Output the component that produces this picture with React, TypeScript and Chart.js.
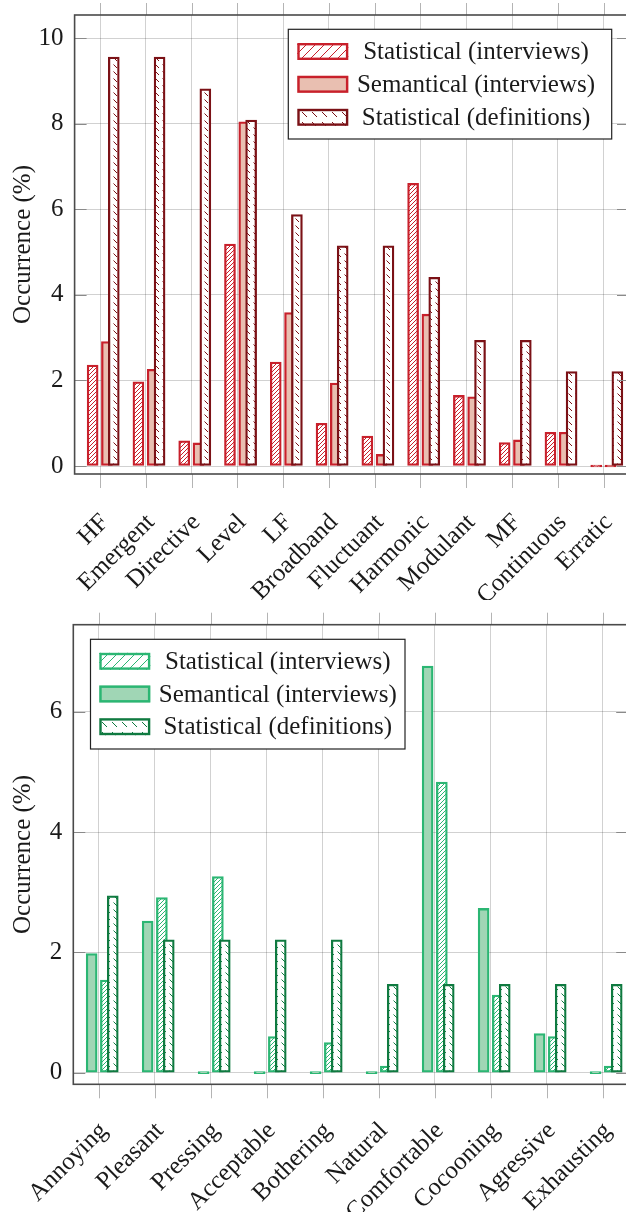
import React, { useEffect, useRef } from 'react';
import { Chart, registerables } from 'chart.js';

Chart.register(...registerables);

// ---------- DATA ----------
const seriesLabels = ['Statistical (interviews)', 'Semantical (interviews)', 'Statistical (definitions)'];

const topCategories = ['HF', 'Emergent', 'Directive', 'Level', 'LF', 'Broadband', 'Fluctuant', 'Harmonic', 'Modulant', 'MF', 'Continuous', 'Erratic'];
const topStatInterviews = [2.36, 1.97, 0.59, 5.19, 2.43, 1.0, 0.7, 6.61, 1.65, 0.55, 0.79, 0];
const topSemInterviews = [2.91, 2.26, 0.54, 8.05, 3.59, 1.94, 0.27, 3.55, 1.62, 0.61, 0.79, 0];
const topStatDefinitions = [9.56, 9.56, 8.82, 8.09, 5.88, 5.15, 5.15, 4.41, 2.94, 2.94, 2.21, 2.21];
const topYTicks = [0, 2, 4, 6, 8, 10];

const bottomCategories = ['Annoying', 'Pleasant', 'Pressing', 'Acceptable', 'Bothering', 'Natural', 'Comfortable', 'Cocooning', 'Agressive', 'Exhausting'];
const bottomStatInterviews = [1.54, 2.91, 3.26, 0.6, 0.5, 0.11, 4.83, 1.29, 0.6, 0.11];
const bottomSemInterviews = [1.98, 2.52, 0, 0, 0, 0, 6.76, 2.73, 0.65, 0];
const bottomStatDefinitions = [2.94, 2.21, 2.21, 2.21, 2.21, 1.47, 1.47, 1.47, 1.47, 1.47];
const bottomYTicks = [0, 2, 4, 6];

const yTitle = 'Occurrence (%)';

// ---------- STYLE ----------
const FONT = '"Liberation Serif", "Times New Roman", serif';
const TEXT = '#1a1a1a';
const GRID = 'rgba(0,0,0,0.18)';

function hatch(color: string, size: number, dir: 'ne' | 'nw', lw: number, seg?: [number, number]) {
  const c = document.createElement('canvas');
  c.width = size;
  c.height = size;
  const ctx = c.getContext('2d')!;
  ctx.fillStyle = '#ffffff';
  ctx.fillRect(0, 0, size, size);
  ctx.strokeStyle = color;
  ctx.lineWidth = lw;
  ctx.beginPath();
  if (seg) {
    const [a, b] = seg;
    if (dir === 'ne') {
      ctx.moveTo(a, size - a);
      ctx.lineTo(b, size - b);
    } else {
      ctx.moveTo(a, a);
      ctx.lineTo(b, b);
    }
  } else {
    for (const o of [-size, 0, size]) {
      if (dir === 'ne') {
        ctx.moveTo(o, size);
        ctx.lineTo(o + size, 0);
      } else {
        ctx.moveTo(o, 0);
        ctx.lineTo(o + size, size);
      }
    }
  }
  ctx.stroke();
  return ctx.createPattern(c, 'repeat')!;
}

type Theme = { main: string; light: string; dark: string };
const redTheme: Theme = { main: '#c8202b', light: '#e9bfb1', dark: '#7b1116' };
const greenTheme: Theme = { main: '#2bb673', light: '#a0d6b5', dark: '#0f7a40' };

type Params = {
  categories: string[];
  series: number[][];
  offsets: number[];
  yTicks: number[];
  yMin: number;
  yMax: number;
  xMin: number;
  xMax: number;
  theme: Theme;
  yAxisWidth: number;
  xAxisHeight: number;
  padTop: number;
  padRight: number;
  labelPad: number;
  legend: { x: number; y: number; w: number; h: number; swatchX: number; textX: number; rows: number[] };
};

function makeConfig(p: Params): any {
  const t = p.theme;
  const fills = [hatch(t.main, 4, 'ne', 1), t.light, hatch(t.dark, 7, 'nw', 1, [1.5, 5])];
  const legendFills = [hatch(t.main, 9, 'ne', 1), t.light, hatch(t.dark, 10, 'nw', 1, [2, 7])];
  const borders = [t.main, t.main, t.dark];
  const orders = [2, 1, 0];

  const datasets = p.series.map((vals, k) => ({
    label: seriesLabels[k],
    data: vals.map((v, i) => ({ x: i + p.offsets[k], y: v })),
    backgroundColor: fills[k],
    borderColor: borders[k],
    borderWidth: 2.3,
    borderSkipped: false,
    barThickness: 11,
    minBarLength: 2,
    grouped: false,
    order: orders[k],
  }));

  const framePlugin = {
    id: 'frameAndLegend',
    afterDatasetsDraw(chart: any) {
      const { ctx, chartArea: a, scales } = chart;
      const line = (x1: number, y1: number, x2: number, y2: number) => {
        ctx.beginPath();
        ctx.moveTo(x1, y1);
        ctx.lineTo(x2, y2);
        ctx.stroke();
      };
      ctx.save();
      ctx.lineWidth = 1;
      ctx.strokeStyle = '#8a8a8a';
      for (const tk of scales.y.ticks) {
        const py = Math.round(scales.y.getPixelForValue(tk.value)) + 0.5;
        line(a.left, py, a.left + 12, py);
        line(a.right - 12, py, a.right, py);
      }
      ctx.strokeStyle = '#b4b4b4';
      for (const tk of scales.x.ticks) {
        const px = Math.round(scales.x.getPixelForValue(tk.value)) + 0.5;
        line(px, a.bottom, px, a.bottom + 14);
        line(px, a.top - 12, px, a.top);
      }
      ctx.strokeStyle = '#4a4a4a';
      ctx.lineWidth = 1.6;
      ctx.strokeRect(a.left, a.top, a.right - a.left, a.bottom - a.top);

      // legend
      const L = p.legend;
      ctx.fillStyle = '#ffffff';
      ctx.fillRect(L.x, L.y, L.w, L.h);
      ctx.strokeStyle = '#222222';
      ctx.lineWidth = 1.2;
      ctx.strokeRect(L.x, L.y, L.w, L.h);
      ctx.font = `25px ${FONT}`;
      ctx.textAlign = 'center';
      ctx.textBaseline = 'alphabetic';
      chart.data.datasets.forEach((ds: any, k: number) => {
        const cy = L.rows[k];
        ctx.fillStyle = legendFills[k];
        ctx.fillRect(L.swatchX, cy - 8.5, 51, 17);
        ctx.strokeStyle = borders[k];
        ctx.lineWidth = 2.4;
        ctx.strokeRect(L.swatchX + 1.2, cy - 8.5 + 1.2, 51 - 2.4, 17 - 2.4);
        ctx.fillStyle = TEXT;
        ctx.fillText(ds.label, L.textX, cy + 7.5);
      });
      ctx.restore();
    },
  };

  return {
    type: 'bar',
    data: { datasets },
    plugins: [framePlugin],
    options: {
      animation: false,
      responsive: false,
      devicePixelRatio: 1,
      events: [],
      layout: { padding: { top: p.padTop, right: p.padRight, left: 0, bottom: 0 } },
      plugins: { legend: { display: false }, tooltip: { enabled: false } },
      scales: {
        x: {
          type: 'linear',
          min: p.xMin,
          max: p.xMax,
          offset: false,
          bounds: 'data',
          grid: { color: GRID, lineWidth: 1, drawTicks: false, offset: false },
          border: { display: false },
          afterBuildTicks: (s: any) => {
            s.ticks = p.categories.map((_, i) => ({ value: i }));
          },
          afterFit: (s: any) => {
            s.height = p.xAxisHeight;
            s.paddingLeft = 0;
            s.paddingRight = 0;
            s.paddingTop = 0;
            s.paddingBottom = 0;
          },
          ticks: {
            autoSkip: false,
            minRotation: 45,
            maxRotation: 45,
            padding: p.labelPad,
            labelOffset: 5,
            color: TEXT,
            font: { family: FONT, size: 25 },
            callback: (v: number) => p.categories[v],
          },
        },
        y: {
          type: 'linear',
          min: p.yMin,
          max: p.yMax,
          bounds: 'data',
          grid: { color: GRID, lineWidth: 1, drawTicks: false },
          border: { display: false },
          afterBuildTicks: (s: any) => {
            s.ticks = p.yTicks.map((v) => ({ value: v }));
          },
          afterFit: (s: any) => {
            s.width = p.yAxisWidth;
            s.paddingLeft = 0;
            s.paddingRight = 0;
            s.paddingTop = 0;
            s.paddingBottom = 0;
          },
          ticks: {
            padding: 11,
            color: TEXT,
            font: { family: FONT, size: 25 },
            callback: (v: number) => String(v),
          },
          title: {
            display: true,
            text: yTitle,
            color: TEXT,
            font: { family: FONT, size: 25 },
            padding: { top: 8, bottom: 0 },
          },
        },
      },
    },
  };
}

export default function App() {
  const topRef = useRef<HTMLCanvasElement>(null);
  const botRef = useRef<HTMLCanvasElement>(null);

  useEffect(() => {
    const c1 = new Chart(
      topRef.current!,
      makeConfig({
        categories: topCategories,
        series: [topStatInterviews, topSemInterviews, topStatDefinitions],
        offsets: [-0.161, 0.151, 0.301],
        yTicks: topYTicks,
        yMin: -0.187,
        yMax: 10.545,
        xMin: -0.555,
        xMax: 11.555,
        theme: redTheme,
        yAxisWidth: 74.6,
        xAxisHeight: 126,
        padTop: 15,
        padRight: 11,
        labelPad: 34,
        legend: { x: 288.3, y: 29.3, w: 323.4, h: 109.7, swatchX: 297.3, textX: 476, rows: [51.5, 84.3, 117.3] },
      })
    );
    const c2 = new Chart(
      botRef.current!,
      makeConfig({
        categories: bottomCategories,
        series: [bottomStatInterviews, bottomSemInterviews, bottomStatDefinitions],
        offsets: [0.127, -0.127, 0.25],
        yTicks: bottomYTicks,
        yMin: -0.193,
        yMax: 7.446,
        xMin: -0.455,
        xMax: 9.455,
        theme: greenTheme,
        yAxisWidth: 73.3,
        xAxisHeight: 127.7,
        padTop: 24.7,
        padRight: 11.8,
        labelPad: 32,
        legend: { x: 90.5, y: 39.3, w: 314.5, h: 109.7, swatchX: 99.3, textX: 277.8, rows: [61.3, 94, 126.7] },
      })
    );
    return () => {
      c1.destroy();
      c2.destroy();
    };
  }, []);

  return (
    <div style={{ position: 'absolute', left: 0, top: 0, width: 626, height: 1212, overflow: 'hidden', background: '#ffffff' }}>
      <canvas ref={topRef} width={640} height={600} style={{ position: 'absolute', left: 0, top: 0 }} />
      <canvas ref={botRef} width={640} height={612} style={{ position: 'absolute', left: 0, top: 600 }} />
    </div>
  );
}
